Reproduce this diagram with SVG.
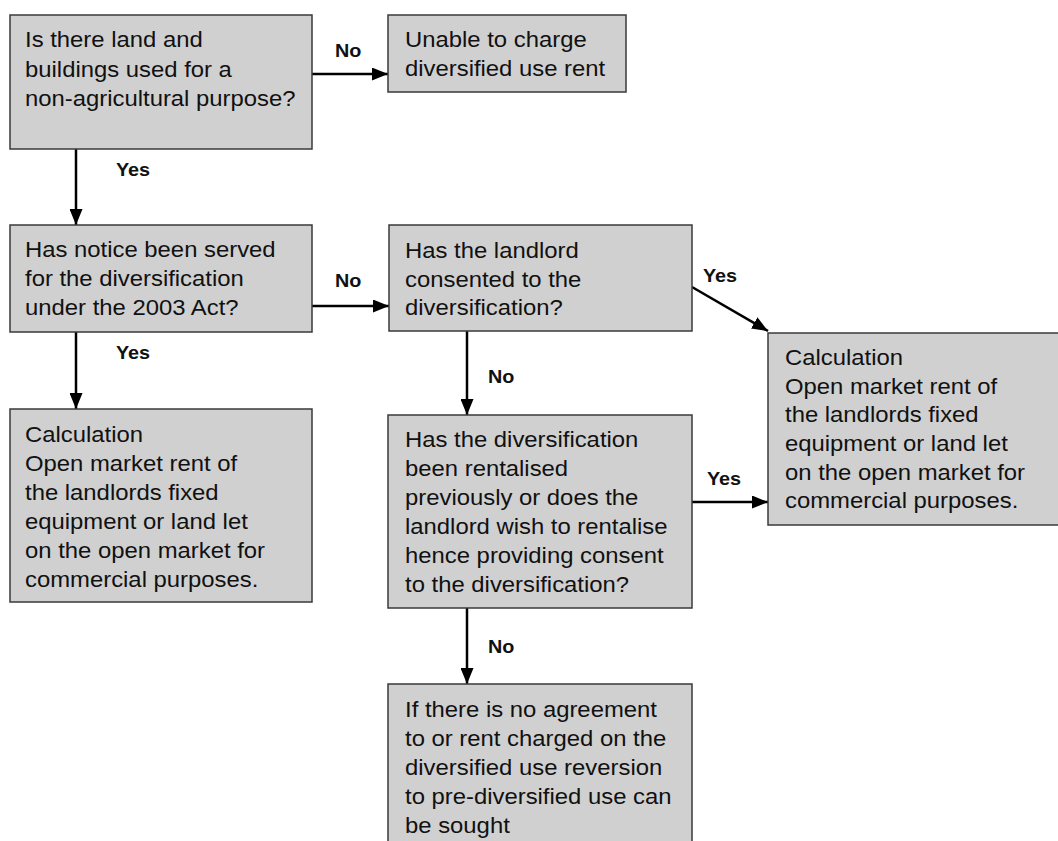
<svg xmlns="http://www.w3.org/2000/svg" width="1058" height="841" viewBox="0 0 1058 841">
<style>
.box{fill:#d0d0d0;stroke:#3a3a3a;stroke-width:1.5}
.t{font-family:"Liberation Sans",Arial,sans-serif;font-size:21.5px;fill:#111}
.l{font-family:"Liberation Sans",Arial,sans-serif;font-size:18px;font-weight:bold;fill:#111}
.c{stroke:#000;stroke-width:2.5;fill:none;marker-end:url(#ah)}
</style>
<defs>
<marker id="ah" markerUnits="userSpaceOnUse" markerWidth="17" markerHeight="13" refX="16" refY="6.5" orient="auto">
<path d="M0,0 L16,6.5 L0,13 z" fill="#000"/>
</marker>
</defs>
<g id="connectors">
<line class="c" x1="312" y1="74" x2="388" y2="74"/>
<line class="c" x1="76" y1="149" x2="76" y2="225"/>
<line class="c" x1="312" y1="306" x2="389" y2="306"/>
<line class="c" x1="76" y1="332" x2="76" y2="409"/>
<line class="c" x1="692" y1="287" x2="768" y2="331"/>
<line class="c" x1="467" y1="331" x2="467" y2="415"/>
<line class="c" x1="692" y1="502" x2="768" y2="502"/>
<line class="c" x1="467" y1="608" x2="467" y2="684"/>
<text class="l" transform="translate(335,0) scale(1.1,1)" y="57">No</text>
<text class="l" transform="translate(116,0) scale(1.1,1)" y="176">Yes</text>
<text class="l" transform="translate(335,0) scale(1.1,1)" y="287">No</text>
<text class="l" transform="translate(116,0) scale(1.1,1)" y="359">Yes</text>
<text class="l" transform="translate(703,0) scale(1.1,1)" y="282">Yes</text>
<text class="l" transform="translate(488,0) scale(1.1,1)" y="383">No</text>
<text class="l" transform="translate(707,0) scale(1.1,1)" y="485">Yes</text>
<text class="l" transform="translate(488,0) scale(1.1,1)" y="653">No</text>
</g>
<g id="n1">
<rect class="box" x="10" y="15" width="302" height="134"/>
<text class="t" transform="translate(25,0) scale(1.11,1)"><tspan x="0" y="47">Is there land and</tspan><tspan x="0" y="77">buildings used for a</tspan><tspan x="0" y="106">non-agricultural purpose?</tspan></text>
</g>
<g id="n2">
<rect class="box" x="388" y="15" width="238" height="77"/>
<text class="t" transform="translate(405,0) scale(1.11,1)"><tspan x="0" y="47">Unable to charge</tspan><tspan x="0" y="76">diversified use rent</tspan></text>
</g>
<g id="n3">
<rect class="box" x="10" y="225" width="302" height="107"/>
<text class="t" transform="translate(25,0) scale(1.11,1)"><tspan x="0" y="257">Has notice been served</tspan><tspan x="0" y="286">for the diversification</tspan><tspan x="0" y="315">under the 2003 Act?</tspan></text>
</g>
<g id="n4">
<rect class="box" x="389" y="225" width="303" height="106"/>
<text class="t" transform="translate(405,0) scale(1.11,1)"><tspan x="0" y="258">Has the landlord</tspan><tspan x="0" y="287">consented to the</tspan><tspan x="0" y="315">diversification?</tspan></text>
</g>
<g id="n5">
<rect class="box" x="10" y="409" width="302" height="193"/>
<text class="t" transform="translate(25,0) scale(1.11,1)"><tspan x="0" y="442">Calculation</tspan><tspan x="0" y="471">Open market rent of</tspan><tspan x="0" y="500">the landlords fixed</tspan><tspan x="0" y="529">equipment or land let</tspan><tspan x="0" y="558">on the open market for</tspan><tspan x="0" y="587">commercial purposes.</tspan></text>
</g>
<g id="n6">
<rect class="box" x="768" y="333" width="300" height="192"/>
<text class="t" transform="translate(785,0) scale(1.11,1)"><tspan x="0" y="365">Calculation</tspan><tspan x="0" y="394">Open market rent of</tspan><tspan x="0" y="422">the landlords fixed</tspan><tspan x="0" y="451">equipment or land let</tspan><tspan x="0" y="480">on the open market for</tspan><tspan x="0" y="508">commercial purposes.</tspan></text>
</g>
<g id="n7">
<rect class="box" x="388" y="415" width="304" height="193"/>
<text class="t" transform="translate(405,0) scale(1.11,1)"><tspan x="0" y="447">Has the diversification</tspan><tspan x="0" y="476">been rentalised</tspan><tspan x="0" y="505">previously or does the</tspan><tspan x="0" y="534">landlord wish to rentalise</tspan><tspan x="0" y="563">hence providing consent</tspan><tspan x="0" y="592">to the diversification?</tspan></text>
</g>
<g id="n8">
<rect class="box" x="388" y="684" width="304" height="170"/>
<text class="t" transform="translate(405,0) scale(1.11,1)"><tspan x="0" y="717">If there is no agreement</tspan><tspan x="0" y="746">to or rent charged on the</tspan><tspan x="0" y="775">diversified use reversion</tspan><tspan x="0" y="804">to pre-diversified use can</tspan><tspan x="0" y="833">be sought</tspan></text>
</g>
</svg>
